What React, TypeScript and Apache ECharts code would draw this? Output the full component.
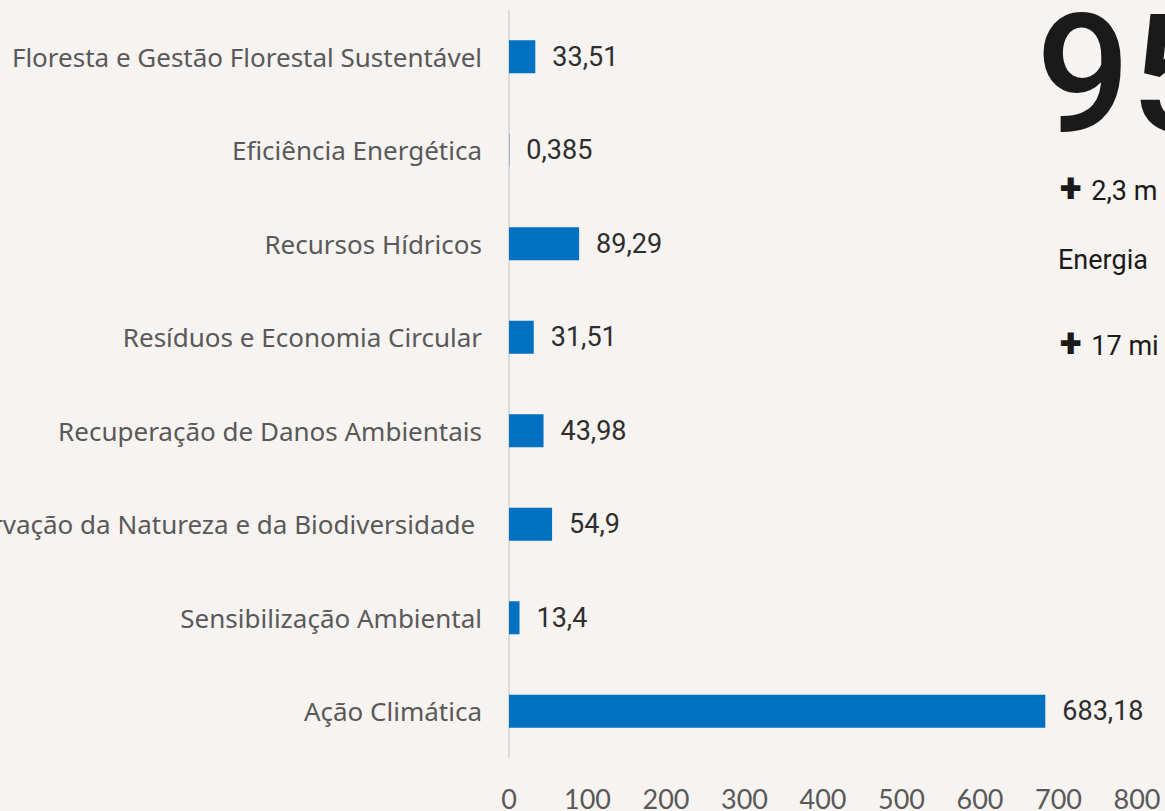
import React, { useEffect, useRef } from "react";
import * as echarts from "echarts";

const categories = [
  "Floresta e Gestão Florestal Sustentável",
  "Eficiência Energética",
  "Recursos Hídricos",
  "Resíduos e Economia Circular",
  "Recuperação de Danos Ambientais",
  "Conservação da Natureza e da Biodiversidade ",
  "Sensibilização Ambiental",
  "Ação Climática",
];
const values = [33.51, 0.385, 89.29, 31.51, 43.98, 54.9, 13.4, 683.18];
const xTicks = { min: 0, max: 800, interval: 100 };

const bigNumber = "95";
const sideLines = ["2,3 m", "Energia", "17 mi"];

const FONT = "Roboto, 'Noto Sans', sans-serif";
const CAT_FONT = "'Noto Sans', Roboto, sans-serif";

export default function App() {
  const ref = useRef<HTMLDivElement>(null);
  useEffect(() => {
    document.body.style.margin = "0";
    const chart = echarts.init(ref.current!, undefined, { renderer: "svg" });
    const plusRich = {
      p: { fontSize: 40, fontWeight: 900, fontFamily: FONT, color: "#1a1a1a", padding: [0, 10, 6, 0] },
      t: { fontSize: 27, fontWeight: 400, fontFamily: FONT, color: "#1a1a1a" },
    };
    chart.setOption({
      animation: false,
      backgroundColor: "#f6f3f0",
      grid: { left: 509, right: 28, top: 10, bottom: 53, containLabel: false, outerBoundsMode: "none" },
      xAxis: {
        type: "value",
        min: xTicks.min,
        max: xTicks.max,
        interval: xTicks.interval,
        axisLine: { show: false },
        axisTick: { show: false },
        splitLine: { show: false },
        axisLabel: {
          color: "#595959",
          fontSize: 27,
          fontFamily: "Lato, sans-serif",
          margin: 27,
        },
      },
      yAxis: {
        type: "category",
        data: categories,
        inverse: true,
        axisLine: { show: true, lineStyle: { color: "#d4d4d4", width: 1.5 } },
        axisTick: { show: false },
        axisLabel: {
          color: "#595959",
          fontSize: 26,
          fontFamily: CAT_FONT,
          margin: 27,
        },
      },
      series: [
        {
          type: "bar",
          data: values,
          barWidth: 33,
          itemStyle: { color: "#0070c0" },
          label: {
            show: true,
            position: "right",
            distance: 17,
            color: "#2e2e2e",
            fontSize: 27,
            fontWeight: 400,
            fontFamily: FONT,
            formatter: (p: any) => String(p.value).replace(".", ","),
          },
        },
      ],
      graphic: [
        {
          type: "text",
          left: 1036,
          top: -9,
          style: {
            text: bigNumber,
            fontSize: 166,
            lineHeight: 120,
            fontFamily: FONT,
            fontWeight: 500,
            fill: "#1a1a1a",
          },
        },
        {
          type: "text",
          left: 1060,
          top: 168,
          style: { text: "{p|+}{t|" + sideLines[0] + "}", rich: plusRich, fill: "#1a1a1a" },
        },
        {
          type: "text",
          left: 1058,
          top: 246,
          style: { text: sideLines[1], fontSize: 27, fontWeight: 400, fontFamily: FONT, fill: "#1a1a1a" },
        },
        {
          type: "text",
          left: 1060,
          top: 323,
          style: { text: "{p|+}{t|" + sideLines[2] + "}", rich: plusRich, fill: "#1a1a1a" },
        },
      ],
    });
    return () => chart.dispose();
  }, []);
  return (
    <div
      ref={ref}
      style={{ position: "fixed", left: 0, top: 0, width: 1165, height: 811 }}
    />
  );
}
